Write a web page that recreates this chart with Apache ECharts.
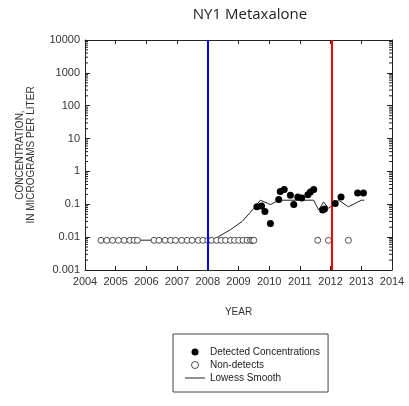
<!DOCTYPE html>
<html>
<head>
<meta charset="utf-8">
<script src="https://cdn.jsdelivr.net/npm/echarts@6/dist/echarts.min.js"></script>
<style>
  html, body { margin: 0; padding: 0; background: #fff; }
  #chart { width: 409px; height: 406px; }
</style>
</head>
<body>
<div id="chart"></div>
<script>
// detected concentrations [year, ug/L]
var detected = [
  [2009.60, 0.084], [2009.75, 0.088], [2009.86, 0.06], [2010.04, 0.026],
  [2010.31, 0.139], [2010.36, 0.245], [2010.49, 0.28], [2010.69, 0.19],
  [2010.80, 0.098], [2010.93, 0.167], [2011.06, 0.156], [2011.26, 0.195],
  [2011.34, 0.236], [2011.45, 0.28], [2011.74, 0.067], [2011.80, 0.072],
  [2012.15, 0.106], [2012.34, 0.167], [2012.88, 0.22], [2013.07, 0.22]
];
// non-detects (plotted at reporting level)
var nonDetects = [
  [2004.52, 0.008], [2004.71, 0.008], [2004.90, 0.008], [2005.09, 0.008],
  [2005.28, 0.008], [2005.46, 0.008], [2005.60, 0.008], [2005.71, 0.008],
  [2006.25, 0.008], [2006.41, 0.008], [2006.61, 0.008], [2006.79, 0.008],
  [2006.95, 0.008], [2007.15, 0.008], [2007.33, 0.008], [2007.49, 0.008],
  [2007.69, 0.008], [2007.84, 0.008], [2008.00, 0.008], [2008.12, 0.008],
  [2008.29, 0.008], [2008.44, 0.008], [2008.58, 0.008], [2008.74, 0.008],
  [2008.87, 0.008], [2009.01, 0.008], [2009.15, 0.008], [2009.28, 0.008],
  [2009.39, 0.008], [2009.45, 0.008], [2009.50, 0.008],
  [2011.58, 0.008], [2011.93, 0.008], [2012.58, 0.008]
];
// lowess smooth
var lowess = [
  [2004.52, 0.008], [2008.10, 0.0082], [2008.30, 0.0097], [2008.74, 0.0169],
  [2009.12, 0.030], [2009.50, 0.075], [2009.71, 0.133], [2010.04, 0.098],
  [2010.31, 0.133], [2011.45, 0.133], [2011.61, 0.067], [2011.77, 0.118],
  [2011.93, 0.075], [2012.26, 0.133], [2012.58, 0.084], [2013.00, 0.133],
  [2013.10, 0.133]
];
var blueLineYear = 2008.0;
var redLineYear = 2012.04;
var yTickLabels = ['0.001', '0.01', '0.1', '1', '10', '100', '1000', '10000'];
var yTickValues = [0.001, 0.01, 0.1, 1, 10, 100, 1000, 10000];

// log minor ticks 2..9 per decade
var minorTicks = [];
for (var d = 0; d < yTickValues.length - 1; d++) {
  for (var m = 2; m <= 9; m++) {
    minorTicks.push([2004, yTickValues[d] * m]);
  }
}

var myChart = echarts.init(document.getElementById('chart'));
var axisColor = '#222';
var font = 'Arial, Liberation Sans';
var option = {
  animation: false,
  title: {
    text: 'NY1 Metaxalone',
    left: 245,
    textAlign: 'center',
    top: 2,
    textStyle: { fontFamily: 'Open Sans', fontWeight: 'normal', fontSize: 15, color: '#222' }
  },
  grid: { left: 85, right: 17, top: 40, bottom: 136 },
  legend: {
    orient: 'vertical',
    left: 173,
    top: 334,
    padding: [13, 8, 9, 12],
    borderColor: '#444',
    borderWidth: 1,
    itemWidth: 20,
    itemHeight: 7,
    itemGap: 3,
    textStyle: { fontFamily: font, fontSize: 10, color: '#222' },
    data: [
      { name: 'Detected Concentrations' },
      { name: 'Non-detects', itemStyle: { borderWidth: 0.8 } },
      { name: 'Lowess Smooth', icon: 'path://M0,0H20V1H0Z' }
    ]
  },
  xAxis: [{
    type: 'value',
    min: 2004, max: 2014, interval: 1,
    name: 'YEAR',
    nameLocation: 'middle',
    nameGap: 37,
    nameTextStyle: { fontFamily: font, fontSize: 10, color: '#333' },
    axisLine: { onZero: false, lineStyle: { color: axisColor } },
    axisTick: { inside: true, length: 4, lineStyle: { color: axisColor } },
    axisLabel: {
      color: '#333', fontFamily: font, fontSize: 11, margin: 6,
      formatter: function (v) { return String(v); }
    },
    splitLine: { show: false }
  }, {
    type: 'value',
    position: 'top',
    min: 2004, max: 2014, interval: 1,
    axisLine: { onZero: false, lineStyle: { color: axisColor } },
    axisTick: { inside: true, length: 4, lineStyle: { color: axisColor } },
    axisLabel: { show: false },
    splitLine: { show: false }
  }],
  yAxis: [{
    type: 'log',
    logBase: 10,
    min: 0.001, max: 10000,
    name: 'CONCENTRATION,\nIN MICROGRAMS PER LITER',
    nameLocation: 'middle',
    nameRotate: 90,
    nameGap: 48,
    nameTextStyle: { fontFamily: font, fontSize: 10, color: '#333', lineHeight: 11 },
    axisLine: { lineStyle: { color: axisColor } },
    axisTick: { inside: true, length: 5, lineStyle: { color: axisColor } },
    axisLabel: {
      color: '#333', fontFamily: font, fontSize: 11, margin: 5,
      formatter: function (v) {
        var i = yTickValues.findIndex(function (t) { return Math.abs(Math.log10(t) - Math.log10(v)) < 1e-6; });
        return i >= 0 ? yTickLabels[i] : '';
      }
    },
    splitLine: { show: false }
  }, {
    type: 'log',
    logBase: 10,
    position: 'right',
    min: 0.001, max: 10000,
    axisLine: { lineStyle: { color: axisColor } },
    axisTick: { inside: true, length: 5, lineStyle: { color: axisColor } },
    axisLabel: { show: false },
    splitLine: { show: false }
  }],
  series: [
    {
      name: 'Lowess Smooth',
      type: 'line',
      data: lowess,
      symbol: 'none',
      lineStyle: { color: '#222', width: 1 },
      itemStyle: { color: '#222' },
      z: 3,
      markLine: {
        silent: true,
        symbol: 'none',
        label: { show: false },
        data: [
          { xAxis: blueLineYear, lineStyle: { color: '#0000ff', width: 2, type: 'solid' } },
          { xAxis: redLineYear, lineStyle: { color: '#ff0000', width: 2, type: 'solid' } }
        ]
      }
    },
    {
      name: 'Non-detects',
      type: 'scatter',
      data: nonDetects,
      symbol: 'circle',
      symbolSize: 6,
      itemStyle: { color: '#fff', borderColor: '#222', borderWidth: 0.8, opacity: 1 },
      z: 4
    },
    {
      name: 'Detected Concentrations',
      type: 'scatter',
      data: detected,
      symbol: 'circle',
      symbolSize: 7,
      itemStyle: { color: '#000', opacity: 1 },
      z: 5
    },
    {
      // log minor ticks on left and right frame
      type: 'custom',
      silent: true,
      data: minorTicks,
      renderItem: function (params, api) {
        var p = api.coord([api.value(0), api.value(1)]);
        var cs = params.coordSys;
        return {
          type: 'group',
          children: [
            { type: 'line', shape: { x1: cs.x, y1: p[1], x2: cs.x + 3, y2: p[1] }, style: { stroke: axisColor, lineWidth: 1 } },
            { type: 'line', shape: { x1: cs.x + cs.width - 3, y1: p[1], x2: cs.x + cs.width, y2: p[1] }, style: { stroke: axisColor, lineWidth: 1 } }
          ]
        };
      }
    }
  ]
};
myChart.setOption(option);
window.addEventListener('resize', function () {
  myChart.resize();
});
</script>
</body>
</html>
